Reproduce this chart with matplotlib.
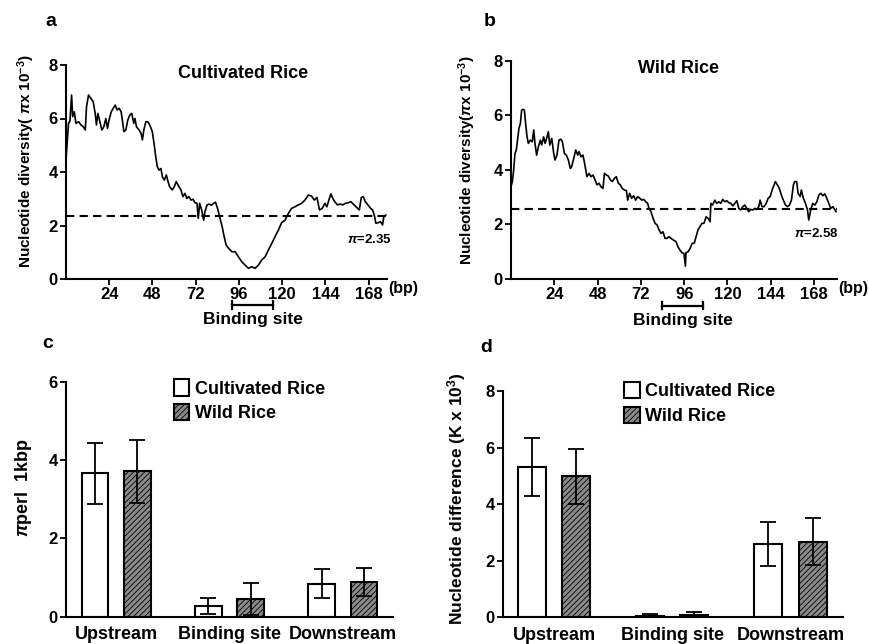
import matplotlib
matplotlib.use("Agg")
import matplotlib.pyplot as plt
import numpy as np

plt.rcParams['font.family'] = ['Liberation Sans', 'DejaVu Sans']
plt.rcParams['font.weight'] = 'bold'
plt.rcParams['axes.labelweight'] = 'bold'
plt.rcParams['mathtext.fontset'] = 'custom'
plt.rcParams['mathtext.rm'] = 'Liberation Sans:bold'
plt.rcParams['mathtext.it'] = 'Liberation Sans:italic'
plt.rcParams['mathtext.bf'] = 'Liberation Sans:bold'
plt.rcParams['hatch.linewidth'] = 0.6

# sliding window nucleotide diversity, cultivated rice (panel a)
cult_bp = [0, 1.4, 2.2, 3.1, 3.7, 4.6, 5.5, 7.0, 8.3, 9.6, 10.7, 11.4, 12.5, 13.8, 15.1, 16.2, 16.9, 17.7,
           18.8, 19.9, 21.0, 22.1, 23.0, 23.9, 25.1, 26.2, 27.3, 28.4, 29.5, 30.6, 31.3, 32.1, 33.2, 34.3,
           35.4, 36.5, 37.6, 38.3, 39.1, 40.6, 41.7, 42.4, 43.2, 44.3, 45.4, 46.5, 47.9, 49.1, 49.8, 50.7,
           51.6, 52.7, 53.5, 54.6, 55.7, 56.4, 57.5, 59.0, 60.1, 61.2, 62.7, 63.8, 64.9, 66.0, 67.1, 68.2,
           69.4, 70.5, 71.6, 72.7, 73.4, 74.2, 75.3, 76.4, 77.1, 78.2, 79.3, 80.8, 81.9, 83.0, 84.1, 85.2,
           86.7, 87.8, 88.9, 90.2, 92.1, 93.9, 95.7, 97.6, 99.4, 101.2, 103.1, 104.9, 106.8, 108.6, 110.5,
           112.3, 114.2, 116.0, 117.9, 119.7, 121.6, 123.4, 125.2, 127.1, 128.9, 130.8, 132.6, 134.5, 136.3,
           137.8, 139.3, 140.7, 142.2, 143.7, 144.8, 145.9, 147.0, 148.1, 149.2, 150.7, 152.2, 153.6, 155.1,
           156.6, 158.1, 159.5, 161.0, 162.8, 163.9, 165.0, 166.1, 167.6, 169.1, 170.2, 171.3, 172.0, 173.5,
           174.6, 175.7, 176.4, 177.5]
cult_pi = [4.45, 5.82, 5.9, 6.88, 6.07, 6.25, 5.82, 5.88, 5.76, 5.69, 5.57, 6.44, 6.88, 6.75, 6.63, 6.19,
           5.76, 6.19, 5.88, 5.57, 5.69, 6.0, 5.63, 5.94, 6.25, 6.38, 6.5, 6.32, 6.38, 6.25, 5.94, 5.51,
           5.57, 5.94, 6.13, 6.19, 5.82, 6.0, 5.69, 5.57, 5.44, 5.2, 5.57, 5.88, 5.88, 5.76, 5.51, 4.95,
           4.57, 4.2, 4.07, 4.13, 3.82, 3.7, 3.89, 3.7, 3.45, 3.33, 3.45, 3.64, 3.45, 3.33, 3.08, 3.2, 3.01,
           3.08, 2.95, 2.98, 2.85, 2.83, 2.27, 2.83, 2.58, 2.2, 2.51, 2.76, 2.8, 2.76, 2.83, 2.87, 2.64,
           2.35, 1.95, 1.58, 1.27, 1.15, 1.02, 1.02, 0.83, 0.64, 0.52, 0.4, 0.46, 0.4, 0.52, 0.71, 0.83,
           1.08, 1.33, 1.58, 1.83, 2.11, 2.2, 2.45, 2.64, 2.7, 2.77, 2.83, 2.95, 3.14, 3.1, 2.95, 3.05,
           2.58, 2.64, 2.83, 2.7, 2.95, 3.18, 3.01, 2.89, 2.77, 2.8, 2.77, 2.83, 2.85, 2.89, 2.8, 2.7,
           2.58, 3.05, 3.08, 2.89, 2.77, 2.64, 2.58, 2.33, 2.08, 2.11, 2.14, 2.02, 2.33, 2.39]
cult_mean = 2.35

# wild rice (panel b)
wild_bp = [0, 0.75, 1.5, 2.2, 2.96, 3.7, 4.4, 5.2, 5.9, 6.7, 7.4, 8.1, 8.9, 9.6, 10.7, 11.8, 12.6, 13.3,
           14.2, 15.2, 16.3, 17.0, 18.1, 18.9, 20.0, 20.7, 21.5, 22.6, 23.7, 24.4, 25.5, 26.6, 27.7, 28.5,
           29.6, 30.7, 31.8, 32.9, 33.6, 34.8, 35.9, 37.0, 37.7, 38.8, 39.9, 41.0, 42.1, 43.3, 44.4, 45.5,
           46.6, 47.7, 48.8, 49.9, 51.0, 51.8, 52.9, 54.0, 55.1, 56.2, 57.3, 58.4, 59.5, 60.6, 61.7, 62.9,
           64.0, 64.7, 65.8, 66.9, 68.0, 69.1, 70.2, 71.4, 72.5, 73.6, 74.7, 75.8, 76.5, 77.6, 78.8, 79.9,
           81.0, 82.1, 83.2, 84.3, 85.4, 86.5, 87.6, 88.7,
           90.0, 91.5, 92.6, 93.7, 94.8, 95.9, 96.7, 97.0, 98.2, 99.3, 100.5, 101.6, 102.6, 103.7, 104.8,
           105.9, 107.0, 108.2, 109.3, 110.4, 110.8, 111.8, 113.0, 114.1, 115.2, 116.3, 117.4, 118.5, 119.6,
           120.7, 121.9, 123.0, 124.1, 125.2, 126.3, 127.4, 128.5, 129.6, 130.7, 131.8, 133.0, 134.1, 135.2,
           136.3, 137.4, 138.1, 139.2, 140.3, 141.5, 142.6, 143.7, 144.8, 145.9, 146.6, 147.7, 148.8, 149.9,
           151.0, 152.2, 153.3, 154.4, 155.5, 156.6, 157.3, 158.4, 159.2, 160.3, 161.0, 162.1, 163.3, 164.4,
           165.1, 166.2, 167.3, 168.5, 169.6, 170.7, 171.8, 172.9, 174.0, 175.1, 176.2, 177.3, 178.5, 179.6,
           180.3]
wild_pi = [3.38, 3.57, 4.0, 4.6, 4.73, 5.15, 5.52, 5.7, 6.19, 6.22, 6.19, 5.7, 5.21, 4.97, 5.09, 5.03, 5.46,
           4.97, 4.54, 4.85, 5.09, 4.91, 5.21, 4.97, 5.21, 5.4, 4.91, 5.15, 4.6, 4.36, 4.54, 5.09, 5.12, 5.03,
           4.6, 4.54, 4.36, 4.05, 4.11, 4.42, 4.73, 4.54, 4.67, 4.48, 4.54, 4.17, 3.75, 3.87, 3.75, 3.81,
           3.63, 3.45, 3.51, 3.38, 3.32, 3.87, 3.81, 3.77, 3.63, 3.57, 3.69, 3.75, 3.51, 3.45, 3.32, 3.26,
           3.24, 2.89, 3.14, 2.96, 3.05, 2.89, 3.02, 2.96, 2.89, 2.92, 2.83, 2.77, 2.59, 2.47, 2.22, 2.04,
           1.98, 1.8, 1.67, 1.73, 1.49, 1.49, 1.55, 1.49,
           1.43, 1.37, 1.18, 1.06, 0.96, 0.94, 0.47, 0.96, 1.0, 1.12, 1.31, 1.31, 1.55, 1.8, 1.92, 2.04,
           2.04, 2.28, 2.22, 2.1, 2.77, 2.71, 2.89, 2.77, 2.83, 2.77, 2.92, 2.83, 2.87, 2.8, 2.77, 2.68,
           2.77, 2.87, 2.59, 2.53, 2.65, 2.71, 2.59, 2.47, 2.55, 2.53, 2.59, 2.55, 2.65, 2.89, 2.65, 2.65,
           2.77, 2.96, 3.02, 3.26, 3.45, 3.57, 3.45, 3.32, 3.08, 2.89, 2.71, 2.65, 2.71, 2.89, 3.45, 3.57,
           3.57, 3.14, 3.02, 3.26, 2.96, 2.77, 2.53, 2.16, 2.53, 2.77, 2.71, 2.83, 3.08, 3.14, 3.05, 3.12,
           2.96, 2.77, 2.59, 2.65, 2.53, 2.47]
wild_mean = 2.58

# binding site extent (bp)
site_a = [92, 115]
site_b = [84, 106.4]
bp_ticks = [24, 48, 72, 96, 120, 144, 168]

# panels c and d
regions = ["Upstream", "Binding site", "Downstream"]
pi_cult = [3.66, 0.28, 0.84]
pi_cult_err = [0.77, 0.21, 0.37]
pi_wild = [3.71, 0.46, 0.89]
pi_wild_err = [0.80, 0.41, 0.36]
k_cult = [5.32, 0.06, 2.60]
k_cult_err = [1.03, 0.06, 0.78]
k_wild = [4.98, 0.08, 2.67]
k_wild_err = [0.98, 0.09, 0.83]

W, H = 870, 644
fig = plt.figure(figsize=(W / 100, H / 100), dpi=100)


def px_axes(l, t, r, b):
    return fig.add_axes([l / W, 1 - b / H, (r - l) / W, (b - t) / H])


def style(ax, size=12):
    for s in ['top', 'right']:
        ax.spines[s].set_visible(False)
    for s in ['left', 'bottom']:
        ax.spines[s].set_linewidth(1.5)
    ax.tick_params(width=1.3, length=4, labelsize=size, pad=2)
    for t in ax.get_xticklabels() + ax.get_yticklabels():
        t.set_fontweight('bold')


def line_panel(ax, bp, pi, mean, xmax, site, title, title_xy, lab_xy):
    ax.plot(bp, pi, color='black', lw=1.2)
    ax.axhline(mean, color='black', lw=1.5, dashes=(4, 2.5))
    ax.set_xlim(0, xmax)
    ax.set_ylim(0, 8)
    ax.set_yticks([0, 2, 4, 6, 8])
    ax.set_xticks(bp_ticks)
    style(ax)
    ax.text(title_xy[0], title_xy[1], title, fontsize=13, ha='center', va='center')
    ax.text(lab_xy[0], lab_xy[1], r"$\pi$=%.2f" % mean, fontsize=9.5, ha='right', va='center')
    tr = ax.get_xaxis_transform()
    ax.text(1.004, -0.045, "(bp)", transform=ax.transAxes, fontsize=11.5, ha='left', va='center')
    ax.plot(site, [-0.122, -0.122], color='black', lw=1.6, transform=tr, clip_on=False)
    for s in site:
        ax.plot([s, s], [-0.105, -0.139], color='black', lw=1.6, transform=tr, clip_on=False)
    ax.text(np.mean(site), -0.19, "Binding site", transform=tr, fontsize=12.5, ha='center', va='center')


ax_a = px_axes(66, 65, 386.7, 279)
line_panel(ax_a, cult_bp, cult_pi, cult_mean, 178, site_a, "Cultivated Rice", (98, 7.69), (180.5, 1.46))
ax_a.set_ylabel(r"Nucleotide diversity( $\pi$x 10$^{\mathbf{-3}}$)", fontsize=11)
ax_a.yaxis.set_label_coords(-0.090, 0.549)

ax_b = px_axes(511, 60.7, 836.7, 279)
line_panel(ax_b, wild_bp, wild_pi, wild_mean, 180.6, site_b, "Wild Rice", (92.8, 7.72), (181.5, 1.67))
ax_b.set_ylabel(r"Nucleotide diversity($\pi$x 10$^{\mathbf{-3}}$)", fontsize=11)
ax_b.yaxis.set_label_coords(-0.101, 0.545)


def bar_panel(ax, cult, cult_err, wild, wild_err, ymax, yticks):
    x = np.arange(len(regions))
    ekw = dict(elinewidth=1.3, capthick=1.3)
    ax.bar(x - 0.187, cult, 0.236, color='white', edgecolor='black', lw=1.5,
           yerr=cult_err, capsize=6, error_kw=ekw, label="Cultivated Rice")
    ax.bar(x + 0.187, wild, 0.236, color='#8a8a8a', edgecolor='black', lw=1.5, hatch='//////',
           yerr=wild_err, capsize=6, error_kw=ekw, label="Wild Rice")
    ax.set_ylim(0, ymax)
    ax.set_yticks(yticks)
    ax.set_xticks(x)
    ax.set_xticklabels(regions)
    style(ax)
    ax.tick_params(axis='x', length=0, pad=7, labelsize=13)


ax_c = px_axes(66, 381.7, 393, 616.7)
bar_panel(ax_c, pi_cult, pi_cult_err, pi_wild, pi_wild_err, 6, [0, 2, 4, 6])
ax_c.set_xlim(-0.443, 2.443)
ax_c.set_ylabel(r"$\pi$perl  1kbp", fontsize=13)
ax_c.yaxis.set_label_coords(-0.098, 0.548)
ax_c.legend(loc='upper left', bbox_to_anchor=((174 - 66) / 327, 1.01), frameon=False,
            prop={'weight': 'bold', 'size': 13}, handlelength=0.85, handleheight=1.0,
            handletextpad=0.3, labelspacing=0.35, borderpad=0, borderaxespad=0)

ax_d = px_axes(503.3, 391, 843, 617.3)
bar_panel(ax_d, k_cult, k_cult_err, k_wild, k_wild_err, 8, [0, 2, 4, 6, 8])
ax_d.set_xlim(-0.43, 2.444)
ax_d.set_ylabel(r"Nucleotide difference (K x 10$^{\mathbf{3}}$)", fontsize=12.5)
ax_d.yaxis.set_label_coords(-0.104, 0.525)
ax_d.legend(loc='upper left', bbox_to_anchor=((624.3 - 503.3) / 339.7, 1.04), frameon=False,
            prop={'weight': 'bold', 'size': 13}, handlelength=0.85, handleheight=1.0,
            handletextpad=0.3, labelspacing=0.35, borderpad=0, borderaxespad=0)

for lab, x, y in [("a", 51, 22), ("b", 490, 22), ("c", 48, 344), ("d", 486, 347)]:
    fig.text(x / W, 1 - y / H, lab, fontsize=14, ha='center', va='center')

fig.savefig("out.png", dpi=100)
